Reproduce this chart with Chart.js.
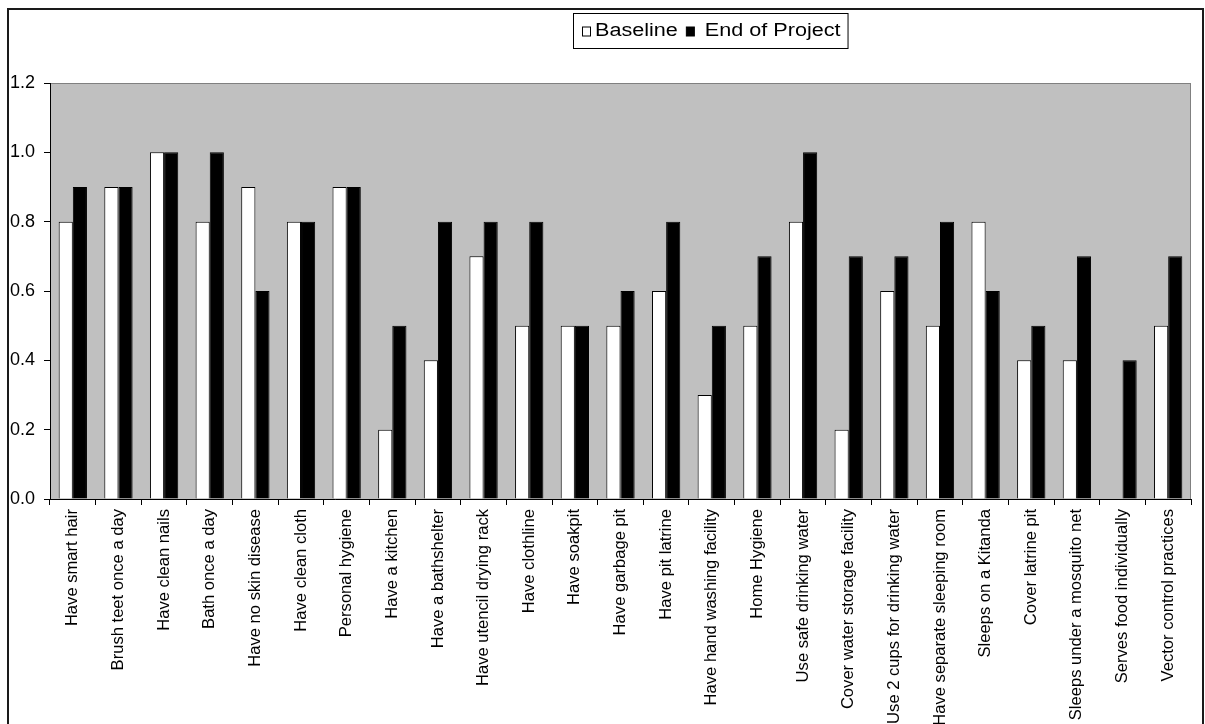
<!DOCTYPE html>
<html lang="en">
<head>
  <meta charset="UTF-8">
  <title>Baseline vs End of Project</title>
  <script src="https://cdn.jsdelivr.net/npm/chart.js"></script>
  <style>
    html, body { margin:0; padding:0; background:#fff; overflow:hidden; }
    #wrap { width:1205px; height:724px; }
  </style>
</head>
<body>
  <div id="wrap"><canvas id="grafico" width="1205" height="724"></canvas></div>

  <script>
    /* ---------- Datos ---------- */
    const categorias = [
      'Have smart hair', 'Brush teet once a day', 'Have clean nails', 'Bath once a day',
      'Have no skin disease', 'Have clean cloth', 'Personal hygiene', 'Have a kitchen',
      'Have a bathshelter', 'Have utencil drying rack', 'Have clothline', 'Have soakpit',
      'Have garbage pit', 'Have pit latrine', 'Have hand washing facility', 'Home Hygiene',
      'Use safe drinking water', 'Cover water storage facility', 'Use 2 cups for drinking water',
      'Have separate sleeping room', 'Sleeps on a Kitanda', 'Cover latrine pit',
      'Sleeps under a mosquito net', 'Serves food individually', 'Vector control practices'
    ];
    const baseline    = [0.8, 0.9, 1.0, 0.8, 0.9, 0.8, 0.9, 0.2, 0.4, 0.7, 0.5, 0.5, 0.5,
                         0.6, 0.3, 0.5, 0.8, 0.2, 0.6, 0.5, 0.8, 0.4, 0.4, 0.0, 0.5];
    const endProject  = [0.9, 0.9, 1.0, 1.0, 0.6, 0.8, 0.9, 0.5, 0.8, 0.8, 0.8, 0.5, 0.6,
                         0.8, 0.5, 0.7, 1.0, 0.7, 0.7, 0.8, 0.6, 0.5, 0.7, 0.4, 0.7];
    const yTicks      = [0.0, 0.2, 0.4, 0.6, 0.8, 1.0, 1.2];

    /* ---------- Fondo gris del área + marco exterior ---------- */
    const fondoPlot = {
      id: 'fondoPlot',
      beforeDraw(chart) {
        const { ctx, chartArea: a } = chart;
        ctx.save();
        ctx.fillStyle = '#c0c0c0';
        ctx.fillRect(a.left, a.top, a.right - a.left, a.bottom - a.top);
        ctx.strokeStyle = '#808080';
        ctx.lineWidth = 1;
        ctx.strokeRect(a.left + 0.5, a.top + 0.5, a.right - a.left - 1, a.bottom - a.top);
        // marco del gráfico (Excel)
        ctx.strokeStyle = '#1a1a1a';
        ctx.lineWidth = 2;
        ctx.strokeRect(8, 9, 1195, 760);
        ctx.restore();
      }
    };

    /* ---------- Leyenda con recuadro ---------- */
    const leyenda = {
      id: 'leyenda',
      afterDraw(chart) {
        const { ctx } = chart;
        const sx = 1.2;                // texto algo ensanchado como en el original
        const x0 = 573, y0 = 13, h = 35;
        const gapTexto = [4, 10];      // hueco cuadrado → texto (como en Excel)
        ctx.save();
        ctx.font = '18px "Liberation Sans", Arial, sans-serif';
        ctx.textBaseline = 'middle';
        let x = x0 + 9;
        const yc = y0 + h / 2 + 1;
        chart.data.datasets.forEach((ds, i) => {
          ctx.fillStyle = ds.backgroundColor;
          ctx.strokeStyle = '#000';
          ctx.lineWidth = 1;
          ctx.fillRect(x + 0.5, yc - 4.5, 8, 9);
          ctx.strokeRect(x + 0.5, yc - 4.5, 8, 9);
          x += 9 + gapTexto[i];
          ctx.save();
          ctx.translate(x, yc);
          ctx.scale(sx, 1);
          ctx.fillStyle = '#000';
          ctx.fillText(ds.label, 0, 0);
          ctx.restore();
          x += ctx.measureText(ds.label).width * sx + 8;
        });
        ctx.strokeStyle = '#000';
        ctx.lineWidth = 1;
        ctx.strokeRect(x0 + 0.5, y0 + 0.5, x - x0 - 1, h);
        ctx.restore();
      }
    };

    /* ---------- Chart ---------- */
    new Chart(document.getElementById('grafico'), {
      type: 'bar',
      data: {
        labels: categorias,
        datasets: [
          { label: 'Baseline', data: baseline,
            backgroundColor: '#ffffff', borderColor: '#000000', borderWidth: 1 },
          { label: 'End of Project', data: endProject,
            backgroundColor: '#000000', borderColor: '#000000', borderWidth: 1 }
        ]
      },
      options: {
        responsive: false,
        animation: false,
        devicePixelRatio: 1,
        layout: { padding: { top: 83, right: 14, left: 0, bottom: 0 } },
        categoryPercentage: 0.62,
        barPercentage: 1.0,
        plugins: { legend: { display: false }, tooltip: { enabled: false } },
        scales: {
          x: {
            grid: { display: true, offset: true, drawOnChartArea: false,
                    color: '#000', tickLength: 6 },
            border: { display: true, color: '#000', width: 1 },
            ticks: { autoSkip: false, minRotation: 90, maxRotation: 90, padding: 4,
                     color: '#000', font: { family: '"Liberation Sans", Arial, sans-serif', size: 16.6 } },
            afterFit: s => { s.height = 225; }
          },
          y: {
            min: 0, max: 1.2,
            afterBuildTicks: s => { s.ticks = yTicks.map(v => ({ value: v })); },
            grid: { display: true, drawOnChartArea: false, color: '#000', tickLength: 6 },
            border: { display: true, color: '#000', width: 1 },
            ticks: { padding: 9, color: '#000', callback: v => v.toFixed(1),
                     font: { family: '"Liberation Sans", Arial, sans-serif', size: 18 } },
            afterFit: s => { s.width = 50; }
          }
        }
      },
      plugins: [fondoPlot, leyenda]
    });
  </script>
</body>
</html>
